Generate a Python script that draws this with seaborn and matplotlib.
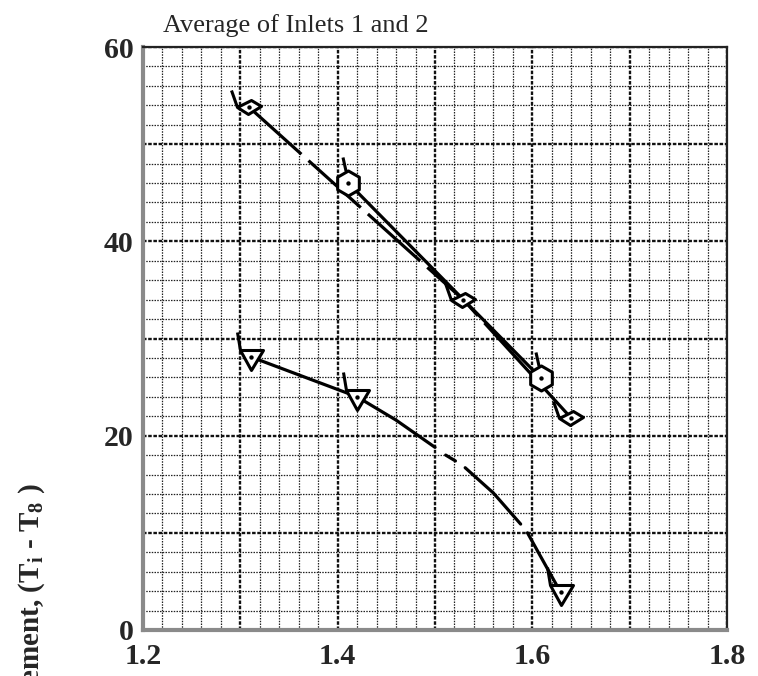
import numpy as np
import pandas as pd
import matplotlib
matplotlib.use("Agg")
import matplotlib.pyplot as plt
from matplotlib.path import Path
from matplotlib.markers import MarkerStyle
from matplotlib.ticker import MultipleLocator
import seaborn as sns

# ---------------- data ----------------
diamond_x = [1.309, 1.529, 1.640]
diamond_y = [53.8, 34.0, 21.8]

hexagon_x = [1.411, 1.609]
hexagon_y = [46.0, 25.9]

triangle_x = [1.311, 1.420, 1.629]
triangle_y = [28.1, 24.0, 3.9]

# faired curve through the triangle points (hand-drawn, with pen lifts)
tri_curve_x = [1.311, 1.420, 1.460, 1.500, 1.511, 1.521, 1.531, 1.560, 1.588, 1.595, 1.615, 1.629]
tri_curve_y = [28.1, 24.0, 21.6, 18.8, 18.0, 17.4, 16.7, 14.1, 10.9, 10.0, 6.4, 3.9]
tri_curve_piece = [0, 0, 0, 0, 1, 1, 2, 2, 2, 3, 3, 3]

x_ticks = [1.2, 1.4, 1.6, 1.8]
y_ticks = [0, 20, 40, 60]
title = "Average of Inlets 1 and 2"
ylabel = "Temperature increment, (T$_{\\mathregular{i}}$ - T$_{\\mathregular{8}}$ )"

# ---------------- style ----------------
sns.set_style("white")
plt.rcParams["font.family"] = ["Liberation Serif", "DejaVu Serif"]
plt.rcParams["mathtext.fontset"] = "custom"
plt.rcParams["mathtext.rm"] = "Liberation Serif:bold"

W, H = 758, 676
fig = plt.figure(figsize=(W / 100, H / 100), dpi=100)
ax = fig.add_axes([143 / W, 46 / H, (727 - 143) / W, (630 - 47) / H])


def flagged(poly, tail):
    verts = list(poly) + [poly[0]] + list(tail)
    codes = ([Path.MOVETO] + [Path.LINETO] * (len(poly) - 1) + [Path.CLOSEPOLY]
             + [Path.MOVETO, Path.LINETO])
    p = Path(verts, codes)
    ext = np.max(np.abs(np.asarray(verts, float)))
    return MarkerStyle(p), (2 * ext * 0.72) ** 2


ang = np.deg2rad(90 + 60 * np.arange(6))
hex_poly = [(12.5 * np.cos(a), 12.5 * np.sin(a)) for a in ang]
hex_marker, hex_s = flagged(hex_poly, [(-2.5, 12.5), (-5.5, 26)])
dia_marker, dia_s = flagged([(-12, 0), (2, 7), (12, 1), (-1, -7)], [(-12, 0), (-18, 17)])
tri_marker, tri_s = flagged([(-11, 7), (12, 7), (0, -13)], [(-11, 7), (-14, 25)])

# ---------------- grid ----------------
ax.set_xlim(1.2, 1.8)
ax.set_ylim(0, 60)
ax.xaxis.set_major_locator(MultipleLocator(0.1))
ax.yaxis.set_major_locator(MultipleLocator(10))
ax.xaxis.set_minor_locator(MultipleLocator(0.02))
ax.yaxis.set_minor_locator(MultipleLocator(2))
ax.grid(True, which="minor", color="#222222", lw=0.9, ls=(0, (1.2, 1.0)), zorder=0)
ax.grid(True, which="major", color="#111111", lw=1.7, ls=(0, (1.5, 0.7)), zorder=0)
ax.set_axisbelow(True)

xt = np.round(np.arange(1.2, 1.8001, 0.1), 2)
ax.set_xticks(xt)
ax.set_xticklabels([f"{v:.1f}" if any(abs(v - t) < 1e-6 for t in x_ticks) else "" for v in xt])
yt = np.arange(0, 61, 10)
ax.set_yticks(yt)
ax.set_yticklabels([f"{v:d}" if v in y_ticks else "" for v in yt])
ax.tick_params(which="both", length=0)
ax.tick_params(axis="x", pad=9)
ax.tick_params(axis="y", pad=7)
for lab in ax.get_xticklabels() + ax.get_yticklabels():
    lab.set_fontsize(21.5)
    lab.set_fontweight("bold")
    lab.set_fontfamily(["Liberation Serif"])

for side in ["left", "bottom"]:
    ax.spines[side].set_color("#8a8a8a")
    ax.spines[side].set_linewidth(3)
for side in ["top", "right"]:
    ax.spines[side].set_color("#222222")
    ax.spines[side].set_linewidth(1.6)

# ---------------- curves ----------------
lw = 2.3
sns.lineplot(x=diamond_x, y=diamond_y, color="black", lw=lw, ls=(0, (22, 3)),
             estimator=None, sort=False, ax=ax, zorder=2)
sns.lineplot(x=hexagon_x, y=hexagon_y, color="black", lw=lw,
             estimator=None, sort=False, ax=ax, zorder=2)
tri_df = pd.DataFrame({"x": tri_curve_x, "y": tri_curve_y, "piece": tri_curve_piece})
sns.lineplot(data=tri_df, x="x", y="y", units="piece", color="black", lw=lw,
             estimator=None, sort=False, ax=ax, zorder=2)

# ---------------- symbols ----------------
for xs, ys, m, s in [(diamond_x, diamond_y, dia_marker, dia_s),
                     (hexagon_x, hexagon_y, hex_marker, hex_s),
                     (triangle_x, triangle_y, tri_marker, tri_s)]:
    sns.scatterplot(x=xs, y=ys, marker=m, s=s, color="white", edgecolor="black",
                    linewidth=2.2, ax=ax, zorder=3, legend=False)
    sns.scatterplot(x=xs, y=ys, marker="o", s=10, color="black", linewidth=0,
                    ax=ax, zorder=4, legend=False)

ax.set_xlabel("")
ax.set_ylabel("")

# ---------------- texts ----------------
fig.text(296 / W, 1 - 32 / H, title, ha="center", va="baseline",
         fontsize=19, fontfamily=["Liberation Serif"])
fig.text(32 / W, 1 - 483 / H, ylabel, rotation=90, ha="center", va="top",
         fontsize=21, fontweight="bold", fontfamily=["Liberation Serif"])

fig.savefig("out.png", dpi=100, facecolor="white")
